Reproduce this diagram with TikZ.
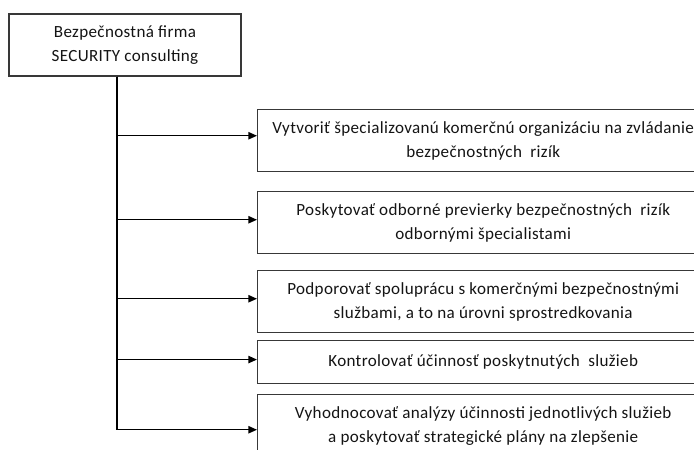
\documentclass[tikz,border=0pt]{standalone}
\usepackage{fontspec}
\setmainfont{Carlito}[LetterSpace=2]
\usetikzlibrary{arrows.meta,calc}
\begin{document}
\begin{tikzpicture}[x=0.75pt,y=-0.75pt,
  box/.style={draw=black!78,line width=1.1pt,rectangle,inner sep=0pt,
    align=center,font=\fontsize{12.8}{18}\selectfont,text=black!92},
  topbox/.style={box,minimum width=174pt,minimum height=46.5pt},
  goalbox/.style={box,anchor=north west,minimum width=338.25pt},
  link/.style={draw=black,line width=1.1pt},
  arr/.style={link,-{Triangle[length=6.5pt,width=5.5pt]}}]
\useasboundingbox (0,0) rectangle (694,450);
\clip (0,0) rectangle (694,450);
% head of the hierarchy
\node[topbox] (top) at (125,45) {Bezpečnostná firma\\SECURITY consulting};
% goals
\node[goalbox,minimum height=46.5pt] (b1) at (257,109)
  {Vytvoriť špecializovanú komerčnú organizáciu na zvládanie\\bezpečnostných\ \ rizík};
\node[goalbox,minimum height=46.5pt] (b2) at (257,191)
  {Poskytovať odborné previerky bezpečnostných\ \ rizík\\odbornými špecialistami};
\node[goalbox,minimum height=46.5pt] (b3) at (257,270)
  {Podporovať spoluprácu s komerčnými bezpečnostnými\\službami, a to na úrovni sprostredkovania};
\node[goalbox,minimum height=32.25pt] (b4) at (257,340)
  {Kontrolovať účinnosť poskytnutých\ \ služieb};
\node[goalbox,minimum height=46.5pt] (b5) at (257,394)
  {Vyhodnocovať\ analýzy\ účinnosti\ jednotlivých\ služieb\\a poskytovať strategické plány na zlepšenie};
% trunk and branches
\coordinate (t0) at ($(top.south)+(-6pt,0)$);
\draw[link] (t0) -- (t0 |- 0,429);
\draw[arr] (t0) |- ([yshift=3.75pt]b1.west);
\draw[arr] (t0) |- ([yshift=2.25pt]b2.west);
\draw[arr] (t0) |- ([yshift=2.25pt]b3.west);
\draw[arr] (t0) |- ([yshift=2pt]b4.west);
\draw[arr] (t0) |- ([yshift=-3pt]b5.west);
\end{tikzpicture}
\end{document}
